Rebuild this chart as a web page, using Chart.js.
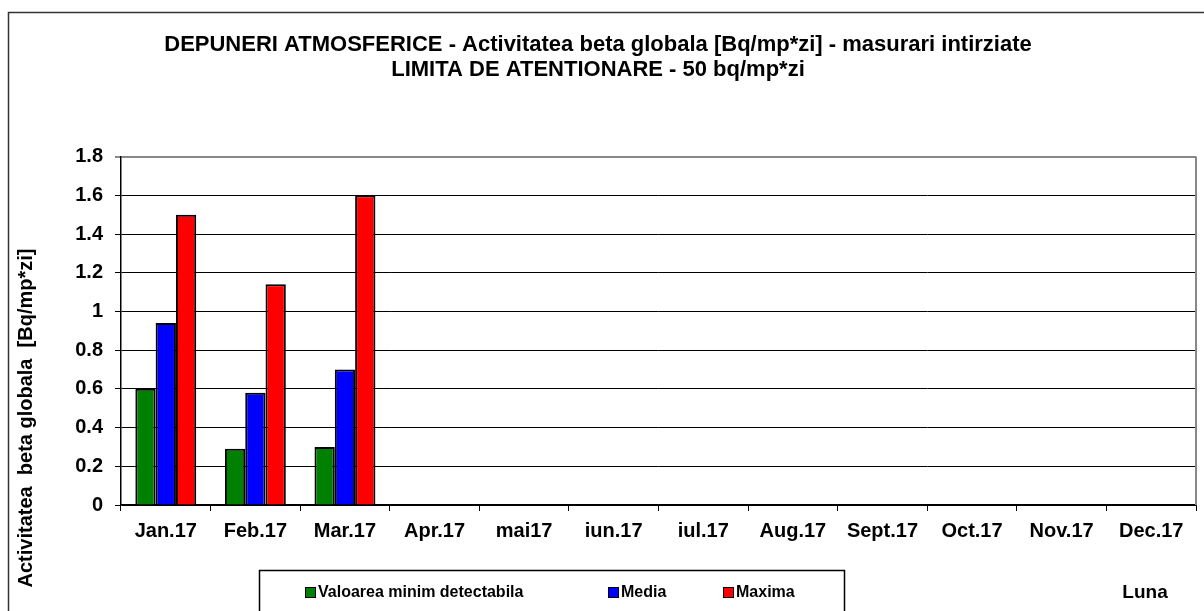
<!DOCTYPE html>
<html>
<head>
    <script src="https://cdn.jsdelivr.net/npm/chart.js@4.4.0/dist/chart.umd.min.js"></script>
    <style>
        body {
            margin: 0;
            background-color: white;
        }
    </style>
</head>
<body>
    <canvas id="depuneriChart" width="1204" height="611"></canvas>

    <script>
        // Date
        const luni = ['Jan.17', 'Feb.17', 'Mar.17', 'Apr.17', 'mai17', 'iun.17',
                      'iul.17', 'Aug.17', 'Sept.17', 'Oct.17', 'Nov.17', 'Dec.17'];
        const valoareMinima = [0.6, 0.29, 0.3, null, null, null, null, null, null, null, null, null];
        const media = [0.94, 0.58, 0.7, null, null, null, null, null, null, null, null, null];
        const maxima = [1.5, 1.14, 1.6, null, null, null, null, null, null, null, null, null];
        const yTicks = [0, 0.2, 0.4, 0.6, 0.8, 1, 1.2, 1.4, 1.6, 1.8];

        const FONT = 'Arial, "Liberation Sans", sans-serif';

        // Chenar exterior, titlul axei Y, legenda si "Luna"
        const decorPlugin = {
            id: 'decor',
            afterDraw(chart) {
                const ctx = chart.ctx;
                const area = chart.chartArea;
                ctx.save();

                // chenarul graficului (doar sus si stanga se vad)
                ctx.strokeStyle = '#333';
                ctx.lineWidth = 1.5;
                ctx.beginPath();
                ctx.moveTo(8.5, 620);
                ctx.lineTo(8.5, 12.5);
                ctx.lineTo(1210, 12.5);
                ctx.stroke();

                // marginea dreapta a zonei de desen
                ctx.strokeStyle = '#888';
                ctx.lineWidth = 2;
                ctx.beginPath();
                ctx.moveTo(area.right, area.top);
                ctx.lineTo(area.right, area.bottom);
                ctx.stroke();

                // titlul axei Y
                ctx.fillStyle = '#000';
                ctx.font = 'bold 20px ' + FONT;
                ctx.textAlign = 'center';
                ctx.textBaseline = 'middle';
                ctx.translate(26, 418);
                ctx.rotate(-Math.PI / 2);
                ctx.fillText('Activitatea  beta globala  [Bq/mp*zi]', 0, 0);
                ctx.setTransform(1, 0, 0, 1, 0, 0);

                // legenda
                ctx.strokeStyle = '#000';
                ctx.lineWidth = 1.5;
                ctx.strokeRect(259.5, 570.5, 585, 60);
                const itemX = [305, 608, 723];
                ctx.font = 'bold 16px ' + FONT;
                ctx.textAlign = 'left';
                chart.data.datasets.forEach((ds, i) => {
                    ctx.fillStyle = ds.backgroundColor;
                    ctx.fillRect(itemX[i], 587, 10, 10);
                    ctx.lineWidth = 1;
                    ctx.strokeRect(itemX[i] + 0.5, 587.5, 10, 10);
                    ctx.fillStyle = '#000';
                    ctx.fillText(ds.label, itemX[i] + 13, 593);
                });

                // eticheta axei X
                ctx.font = 'bold 19px ' + FONT;
                ctx.textAlign = 'center';
                ctx.fillText('Luna', 1145, 593);

                ctx.restore();
            }
        };

        new Chart(document.getElementById('depuneriChart'), {
            type: 'bar',
            data: {
                labels: luni,
                datasets: [
                    {
                        label: 'Valoarea minim detectabila',
                        data: valoareMinima,
                        backgroundColor: '#008000',
                        borderColor: '#000',
                        borderWidth: 2
                    },
                    {
                        label: 'Media',
                        data: media,
                        backgroundColor: '#0000FF',
                        borderColor: '#000',
                        borderWidth: 2
                    },
                    {
                        label: 'Maxima',
                        data: maxima,
                        backgroundColor: '#FF0000',
                        borderColor: '#000',
                        borderWidth: 2
                    }
                ]
            },
            options: {
                responsive: false,
                animation: false,
                categoryPercentage: 0.68,
                barPercentage: 1.0,
                layout: {
                    padding: { top: 0, left: 0, right: 8, bottom: 0 }
                },
                plugins: {
                    legend: { display: false },
                    tooltip: { enabled: false },
                    title: {
                        display: true,
                        text: ['DEPUNERI ATMOSFERICE - Activitatea beta globala [Bq/mp*zi] - masurari intirziate',
                               'LIMITA DE ATENTIONARE - 50 bq/mp*zi'],
                        color: '#000',
                        font: { family: FONT, size: 22, weight: 'bold', lineHeight: 1.15 },
                        padding: { top: 32, bottom: 74 }
                    }
                },
                scales: {
                    x: {
                        afterFit(scale) { scale.height = 106; },
                        border: { color: '#000', width: 1.5 },
                        grid: {
                            offset: true,
                            drawOnChartArea: false,
                            color: '#000',
                            tickLength: 6
                        },
                        ticks: {
                            color: '#000',
                            padding: 8,
                            font: { family: FONT, size: 20, weight: 'bold' }
                        }
                    },
                    y: {
                        min: 0,
                        max: 1.8,
                        afterFit(scale) { scale.width = 121; },
                        afterBuildTicks(scale) {
                            scale.ticks = yTicks.map(v => ({ value: v }));
                        },
                        border: { color: '#000', width: 1.5 },
                        grid: {
                            color: ctx => (ctx.tick && ctx.tick.value === 1.8 ? '#888' : '#000'),
                            lineWidth: ctx => (ctx.tick && ctx.tick.value === 1.8 ? 2 : 1),
                            tickLength: 6
                        },
                        ticks: {
                            color: '#000',
                            padding: 12,
                            font: { family: FONT, size: 20, weight: 'bold' },
                            callback: v => String(+v.toFixed(1))
                        }
                    }
                }
            },
            plugins: [decorPlugin]
        });
    </script>
</body>
</html>
